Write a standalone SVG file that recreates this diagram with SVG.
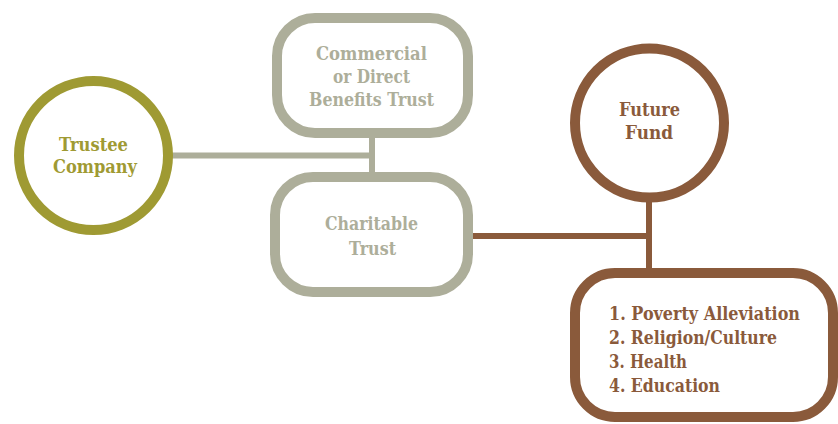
<svg xmlns="http://www.w3.org/2000/svg" width="838" height="424" viewBox="0 0 838 424">
<style>
text{font-family:"DejaVu Serif","Liberation Serif",serif;font-weight:bold;font-size:18.5px}
.c{text-anchor:middle}
.olive{fill:#9F9A33}
.gray{fill:#ADAE9A}
.brown{fill:#8A5A3B}
.nodeO{fill:#fff;stroke:#9F9A33;stroke-width:10}
.nodeG{fill:#fff;stroke:#ADAE9A;stroke-width:10}
.nodeB{fill:#fff;stroke:#8A5A3B;stroke-width:10}
.lg{stroke:#ADAE9A;stroke-width:6;fill:none}
.lb{stroke:#8A5A3B;stroke-width:6;fill:none}
</style>
<rect width="838" height="424" fill="#fff"/>
<g id="connectors">
<path class="lg" d="M170 155.5H372M372 136V178"/>
<path class="lb" d="M470 236H649M649 200V271"/>
</g>
<g id="trustee">
<circle class="nodeO" cx="93.5" cy="155.5" r="74.5"/>
<text class="c olive" x="93.5" y="151" textLength="69" lengthAdjust="spacingAndGlyphs">Trustee</text>
<text class="c olive" x="95" y="173" textLength="84" lengthAdjust="spacingAndGlyphs">Company</text>
</g>
<g id="commercial">
<rect class="nodeG" x="277" y="18" width="191" height="115" rx="38"/>
<text class="c gray" x="371.5" y="60" textLength="111" lengthAdjust="spacingAndGlyphs">Commercial</text>
<text class="c gray" x="371.5" y="83" textLength="77" lengthAdjust="spacingAndGlyphs">or Direct</text>
<text class="c gray" x="371.5" y="106" textLength="125" lengthAdjust="spacingAndGlyphs">Benefits Trust</text>
</g>
<g id="charitable">
<rect class="nodeG" x="275" y="177" width="193" height="115" rx="38"/>
<text class="c gray" x="371.5" y="230" textLength="93" lengthAdjust="spacingAndGlyphs">Charitable</text>
<text class="c gray" x="372.5" y="255" textLength="47" lengthAdjust="spacingAndGlyphs">Trust</text>
</g>
<g id="future">
<circle class="nodeB" cx="649.5" cy="123" r="74.5"/>
<text class="c brown" x="649.5" y="116" textLength="61" lengthAdjust="spacingAndGlyphs">Future</text>
<text class="c brown" x="649" y="139" textLength="48" lengthAdjust="spacingAndGlyphs">Fund</text>
</g>
<g id="causes">
<rect class="nodeB" x="575" y="273" width="258" height="144" rx="40"/>
<text class="brown" x="609" y="320" textLength="191" lengthAdjust="spacingAndGlyphs">1. Poverty Alleviation</text>
<text class="brown" x="609" y="344" textLength="168" lengthAdjust="spacingAndGlyphs">2. Religion/Culture</text>
<text class="brown" x="609" y="368" textLength="78" lengthAdjust="spacingAndGlyphs">3. Health</text>
<text class="brown" x="609" y="392" textLength="111" lengthAdjust="spacingAndGlyphs">4. Education</text>
</g>
</svg>
